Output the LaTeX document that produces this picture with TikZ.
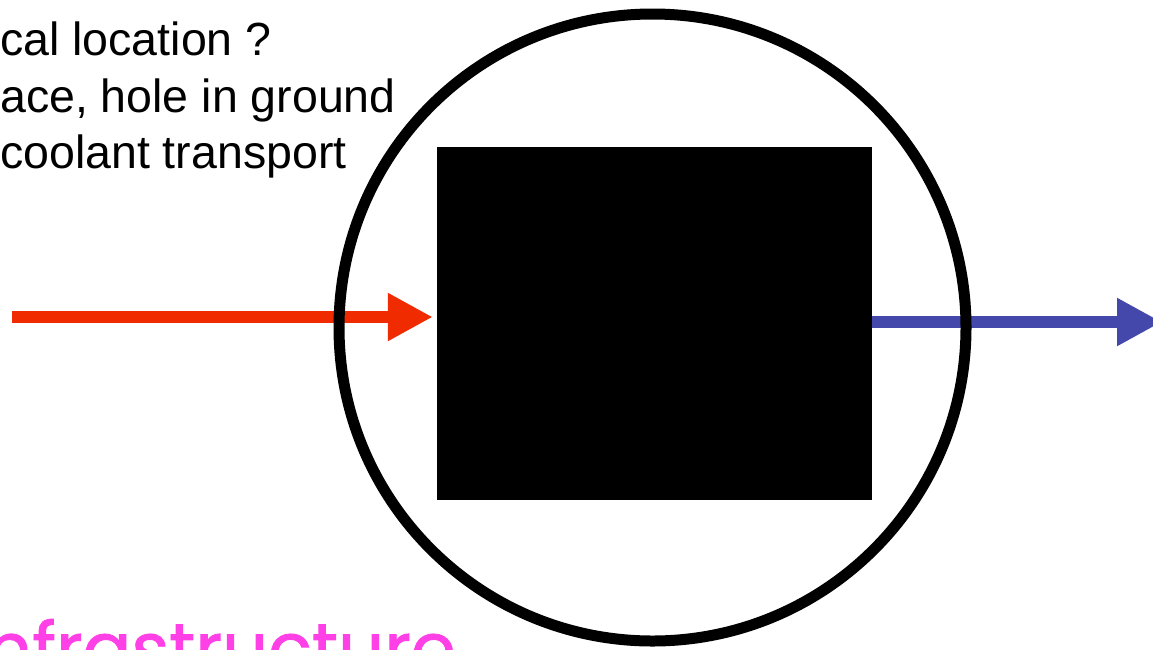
\documentclass[tikz,border=0pt]{standalone}
\usepackage{fontspec}
\setmainfont{Liberation Sans}
\newfontfamily\plantgeo[FakeBold=1.2]{Poppins}
\usetikzlibrary{
  arrows.meta,
  positioning,
  calc
}
\definecolor{plantHeat}{RGB}{240,43,0}
\definecolor{plantCool}{RGB}{68,72,170}
\definecolor{plantPink}{RGB}{255,64,230}
\tikzset{
  plantnote/.style={
    anchor=base west,
    inner sep=0pt,
    font=\fontsize{46.5}{56}\selectfont
  },
  plantcore/.style={
    fill=black,
    draw=none,
    minimum width=435pt,
    minimum height=353pt,
    inner sep=0pt
  },
  plantring/.style={
    circle,
    draw=black,
    line width=11pt,
    minimum size=627pt,
    inner sep=0pt
  },
  plantarrow/.style={
    -{Triangle[length=45pt,width=45pt]},
    line width=12pt
  },
  planttitle/.style={
    anchor=base west,
    inner sep=0pt,
    text=plantPink,
    font=\plantgeo\fontsize{72}{80}\selectfont
  }
}

\begin{document}
\begin{tikzpicture}[x=1pt,y=-1pt]
  \useasboundingbox (0,0) rectangle (1153,649);
  \clip (0,0) rectangle (1153,649);

  % notes, cut at the left edge
  \node[plantnote] (loc1) at (0,55) {cal location ?};
  \node[plantnote] (loc2) at (0,112) {ace, hole in ground};
  \node[plantnote] (loc3) at (0,168) {coolant transport};

  % the black box and its flows
  \node[plantcore] (core) at (654.5,323.5) {};
  \coordinate (heatin) at (12,317);
  \coordinate (coolout) at (1162,322);
  \draw[plantarrow, draw=plantHeat, shorten >=4pt] (heatin) -- (heatin -| core.west);
  \draw[plantarrow, draw=plantCool] (coolout -| core.east) -- (coolout);

  \node[plantring] (ring) at (652.5,327.5) {};

  \node[planttitle] (infra) at (-14,674) {nfrastructure};
\end{tikzpicture}
\end{document}
